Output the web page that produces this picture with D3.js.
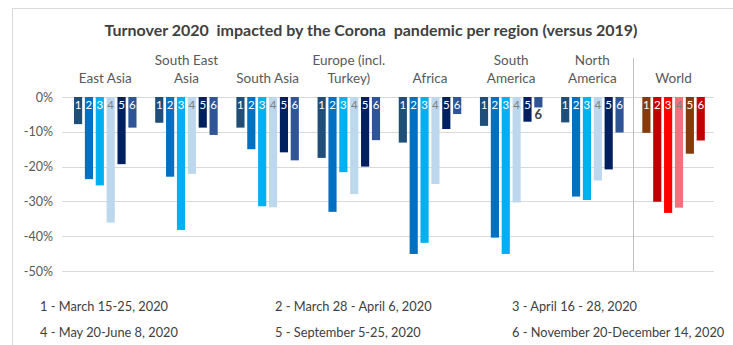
<!DOCTYPE html>
<html>
<head>
<meta charset="utf-8">
<script src="https://cdn.jsdelivr.net/npm/d3@7"></script>
<style>
  html, body { margin: 0; padding: 0; background: #fff; }
  svg { display: block; font-family: Lato, "Open Sans", sans-serif; }
</style>
</head>
<body>
<div id="chart"></div>
<script>

// regions (label lines) and periods
var regions = ["East Asia", "South East Asia", "South Asia", "Europe (incl. Turkey)",
               "Africa", "South America", "North America", "World"];
var regionLines = [["East Asia"], ["South East", "Asia"], ["South Asia"], ["Europe (incl.", "Turkey)"],
                   ["Africa"], ["South", "America"], ["North", "America"], ["World"]];
var periods = ["1", "2", "3", "4", "5", "6"];
var periodLabels = ["1 - March 15-25, 2020", "2 - March 28 - April 6, 2020", "3 - April 16 - 28, 2020",
                    "4 - May 20-June 8, 2020", "5 - September 5-25, 2020", "6 - November 20-December 14, 2020"];

// turnover change vs 2019, in %, periods 1..6
var eastAsia      = [-7.8, -23.6, -25.4, -36.1, -19.3, -8.8];
var southEastAsia = [-7.4, -22.9, -38.2, -22.1, -8.8, -10.9];
var southAsia     = [-8.8, -15.0, -31.4, -31.7, -15.9, -18.2];
var europe        = [-17.5, -33.0, -21.6, -27.9, -20.0, -12.4];
var africa        = [-13.1, -45.1, -41.9, -25.0, -9.2, -4.9];
var southAmerica  = [-8.3, -40.4, -45.1, -30.3, -7.1, -3.0];
var northAmerica  = [-7.3, -28.6, -29.6, -24.0, -20.8, -10.2];
var world         = [-10.3, -30.1, -33.3, -31.8, -16.3, -12.5];

var yTicks = [0, -10, -20, -30, -40, -50];

var blues = ["#1f4e79", "#0070c0", "#00b0f0", "#bdd7ee", "#002060", "#2f5597"];
var reds  = ["#843c0c", "#c00000", "#ff0000", "#f4707c", "#843c0c", "#c00000"];

var values = [eastAsia, southEastAsia, southAsia, europe, africa, southAmerica, northAmerica, world];

var width = 733, height = 345;

var svg = d3.select("#chart").append("svg")
    .attr("width", width)
    .attr("height", height);

// outer frame
svg.append("rect")
    .attr("x", 12.5).attr("y", 8.5)
    .attr("width", width).attr("height", height)
    .attr("fill", "none")
    .attr("stroke", "#d9d9d9");

svg.append("text")
    .attr("x", 371).attr("y", 36)
    .attr("text-anchor", "middle")
    .attr("font-size", 15)
    .attr("font-weight", "bold")
    .attr("fill", "#404040")
    .attr("textLength", 533)
    .attr("lengthAdjust", "spacingAndGlyphs")
    .style("white-space", "pre")
    .text("Turnover 2020  impacted by the Corona  pandemic per region (versus 2019)");

var x0 = d3.scaleBand().domain(regions).range([64.5, 714]).paddingInner(0).paddingOuter(0);
var x1 = d3.scaleBand().domain(periods).range([9.5, 72]).paddingInner(0.25).paddingOuter(0);
var y = d3.scaleLinear().domain([-50, 0]).range([271, 97]);

// gridlines
svg.append("g").selectAll("line")
    .data(yTicks)
    .enter().append("line")
    .attr("x1", 62).attr("x2", 714)
    .attr("y1", function (d) { return Math.round(y(d)) + 0.5; })
    .attr("y2", function (d) { return Math.round(y(d)) + 0.5; })
    .attr("stroke", "#d9d9d9");

// y axis labels
var yAxis = svg.append("g")
    .attr("transform", "translate(53,0)")
    .call(d3.axisLeft(y).tickValues(yTicks).tickSize(0).tickPadding(0)
        .tickFormat(function (d) { return d + "%"; }));
yAxis.select(".domain").remove();
yAxis.selectAll("text")
    .attr("font-family", "Lato, 'Open Sans', sans-serif")
    .attr("font-size", 12.5)
    .attr("fill", "#595959");

// divider before World
svg.append("line")
    .attr("x1", Math.round(x0("World")) + 0.5).attr("x2", Math.round(x0("World")) + 0.5)
    .attr("y1", 58).attr("y2", 271)
    .attr("stroke", "#bfbfbf");

// region labels
var regionG = svg.append("g").selectAll("text")
    .data(regions)
    .enter().append("text")
    .attr("text-anchor", "middle")
    .attr("font-size", 13.5)
    .attr("fill", "#595959")
    .attr("transform", function (d) {
        return "translate(" + (x0(d) + x1.range()[0] + (x1.range()[1] - x1.range()[0]) / 2) + ",0)";
    });
regionG.each(function (d, i) {
    var lines = regionLines[i];
    var t = d3.select(this);
    lines.forEach(function (l, j) {
        t.append("tspan").attr("x", 0)
            .attr("y", lines.length === 1 ? 83 : 65 + j * 18)
            .text(l);
    });
});

// bars
var groups = svg.append("g").selectAll("g")
    .data(regions)
    .enter().append("g")
    .attr("transform", function (d) { return "translate(" + x0(d) + ",0)"; });

groups.each(function (region, ri) {
    var g = d3.select(this);
    var pal = region === "World" ? reds : blues;
    var vals = values[ri];
    g.selectAll("rect")
        .data(vals)
        .enter().append("rect")
        .attr("x", function (d, i) { return x1(periods[i]); })
        .attr("width", x1.bandwidth())
        .attr("y", y(0))
        .attr("height", function (d) { return y(d) - y(0); })
        .attr("fill", function (d, i) { return pal[i]; });

    g.selectAll("text")
        .data(vals)
        .enter().append("text")
        .attr("x", function (d, i) { return x1(periods[i]) + x1.bandwidth() / 2; })
        .attr("y", function (d) { return y(d) - y(0) < 14 ? y(d) + 12 : y(0) + 12; })
        .attr("text-anchor", "middle")
        .attr("font-size", function (d) { return y(d) - y(0) < 14 ? 13 : 11.5; })
        .attr("font-weight", function (d) { return y(d) - y(0) < 14 ? "bold" : "normal"; })
        .attr("fill", function (d, i) {
            if (y(d) - y(0) < 14) return "#404040";
            return i === 3 ? "#7f7f7f" : "#ffffff";
        })
        .text(function (d, i) { return periods[i]; });
});

// legend
svg.append("g").selectAll("text")
    .data(periodLabels)
    .enter().append("text")
    .attr("x", function (d, i) { return [40, 275, 512][i % 3]; })
    .attr("y", function (d, i) { return i < 3 ? 311 : 337; })
    .attr("font-size", 12.8)
    .attr("fill", "#404040")
    .text(function (d) { return d; });

</script>
</body>
</html>
